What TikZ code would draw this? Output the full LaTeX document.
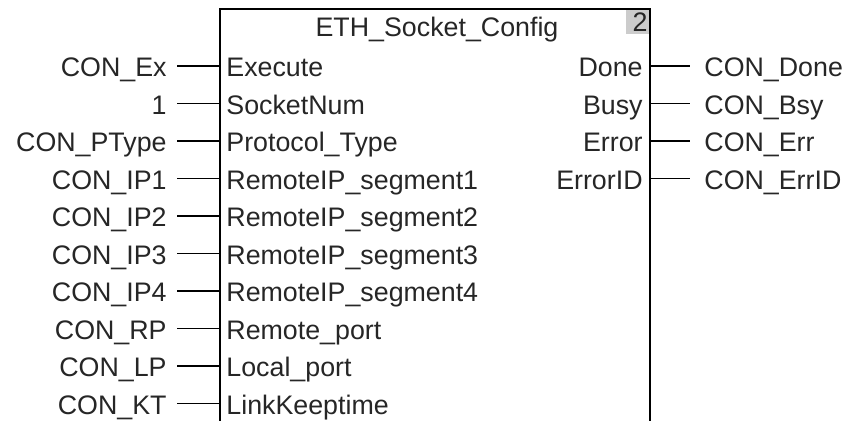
\documentclass[tikz,border=0pt]{standalone}
\usepackage{fontspec}
\setmainfont{Liberation Sans}
\begin{document}
\begin{tikzpicture}[x=0.5pt,y=-0.5pt,
 lbl/.style={inner sep=0pt, text=black!85, font=\fontsize{13.4}{16}\selectfont},
 wire/.style={line width=0.7pt},
 blk/.style={line width=1pt}]
\useasboundingbox (0,0) rectangle (850,421);
\fill[gray!40] (626,10) rectangle (650,34);
\draw[blk] (220,421) -- (220,9) -- (650,9) -- (650,421);
\node[lbl,anchor=base] (title) at (437,37) {ETH\_Socket\_Config};
\node[lbl,anchor=base east] (num) at (648,32) {2};
\foreach \i/\ext/\int in {1/CON\_Ex/Execute,2/1/SocketNum,3/CON\_PType/Protocol\_Type,
  4/CON\_IP1/RemoteIP\_segment1,5/CON\_IP2/RemoteIP\_segment2,6/CON\_IP3/RemoteIP\_segment3,
  7/CON\_IP4/RemoteIP\_segment4,8/CON\_RP/Remote\_port,9/CON\_LP/Local\_port,10/CON\_KT/LinkKeeptime} {
  \pgfmathsetmacro\yy{66+37.5*(\i-1)}
  \coordinate (l\i) at (220,\yy);
  \node[lbl,anchor=base east] (e\i) at (167,\yy+11) {\ext};
  \node[lbl,anchor=base west] (p\i) at (226,\yy+11) {\int};
  \draw[wire] ([xshift=5pt]e\i.east |- l\i) -- (l\i);
}
\foreach \i/\int/\ext in {1/Done/CON\_Done,2/Busy/CON\_Bsy,3/Error/CON\_Err,4/ErrorID/CON\_ErrID} {
  \pgfmathsetmacro\yy{66+37.5*(\i-1)}
  \coordinate (r\i) at (650,\yy);
  \node[lbl,anchor=base east] (q\i) at (643,\yy+11) {\int};
  \node[lbl,anchor=base west] (o\i) at (704,\yy+11) {\ext};
  \draw[wire] (r\i) -- ([xshift=-7pt]o\i.west |- r\i);
}
\end{tikzpicture}
\end{document}
